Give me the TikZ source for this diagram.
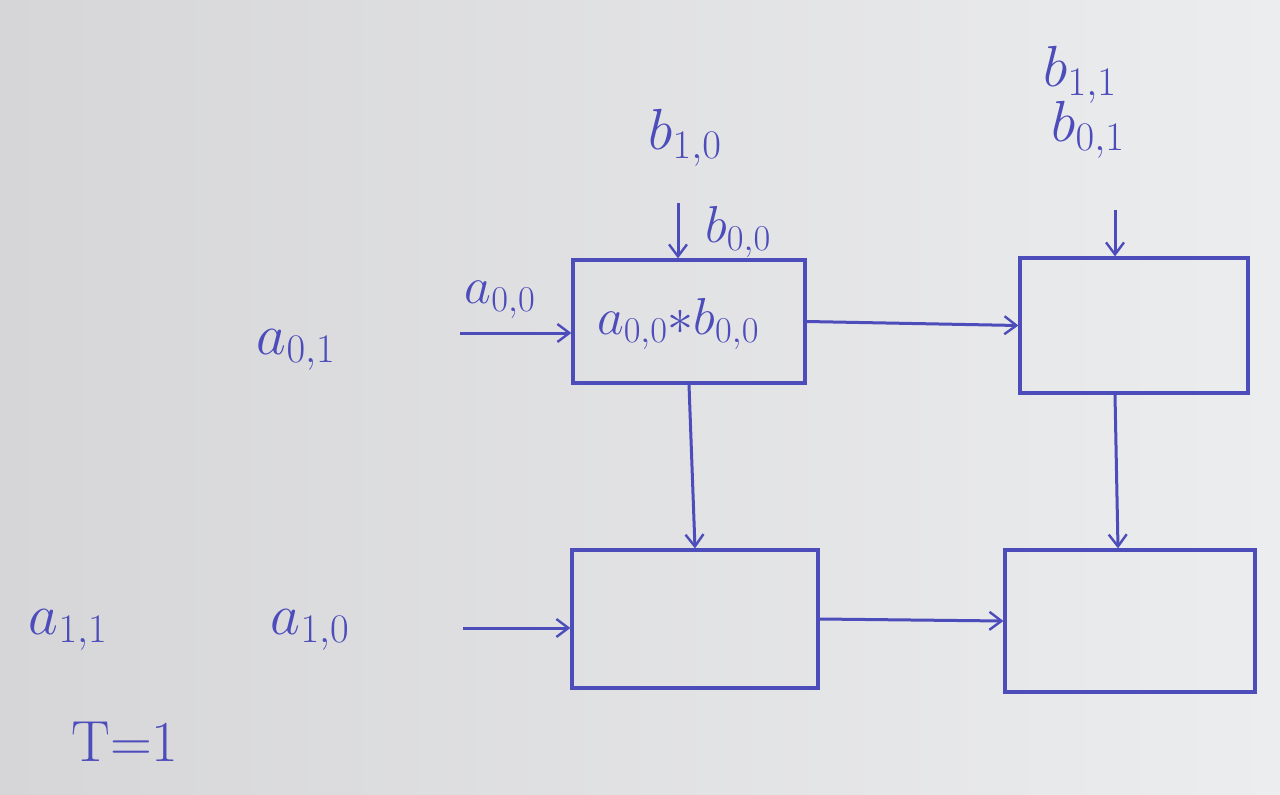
\RequirePackage{fix-cm}
\documentclass[tikz,border=0pt]{standalone}
\usetikzlibrary{arrows.meta,calc}
\definecolor{ink}{RGB}{76,76,186}
\definecolor{boardL}{RGB}{214,214,216}
\definecolor{boardR}{RGB}{236,237,239}
\begin{document}
\begin{tikzpicture}[x=1pt,y=-1pt,
  cell/.style={draw=ink,line width=3.2pt,minimum width=#1},
  lbl/.style={text=ink,font=\fontsize{58}{64}\selectfont,inner sep=0pt},
  slbl/.style={text=ink,font=\fontsize{52}{58}\selectfont,inner sep=0pt},
  flow/.style={draw=ink,line width=3pt,-{Straight Barb[length=12pt,width=18pt,line width=2.4pt]}}]
\shade[left color=boardL,right color=boardR] (0,0) rectangle (1280,795);
\useasboundingbox (0,0) rectangle (1280,795);
% cells
\node[cell=232pt,minimum height=123pt] (box1) at (689,321.5) {};
\node[cell=228pt,minimum height=135pt] (box2) at (1134,325.5) {};
\node[cell=246pt,minimum height=138pt] (box3) at (695,619) {};
\node[cell=250pt,minimum height=142pt] (box4) at (1130,621) {};
% text in box1
\node[slbl] (prod) at (678,324) {$a_{0,0}{*}b_{0,0}$};
% labels
\node[lbl] (b10) at (685,138) {$b_{1,0}$};
\node[lbl] (b11) at (1080,75) {$b_{1,1}$};
\node[lbl] (b01) at (1088,130) {$b_{0,1}$};
\node[slbl] (b00) at (738,232) {$b_{0,0}$};
\node[slbl] (a00) at (500,300) {$a_{0,0}$};
\node[lbl] (a01) at (296,350) {$a_{0,1}$};
\node[lbl] (a11) at (68,630) {$a_{1,1}$};
\node[lbl] (a10) at (310,630) {$a_{1,0}$};
\node[lbl] (T) at (125,742) {$\mathrm{T}{=}1$};
% free ends
\coordinate (in1) at (460,333);
\coordinate (in3) at (463,628);
\coordinate (tp1) at (678,203);
\coordinate (tp2) at (1115,210);
% connectors
\draw[flow] (in1) -- (in1 -| box1.west);
\draw[flow] (tp1) -- (tp1 |- box1.north);
\draw[flow] (tp2) -- (tp2 |- box2.north);
\draw[flow] (in3) -- (in3 -| box3.west);
\draw[flow] (box1.east) -- (box2.west);
\draw[flow] (box1.south) -- (box3.north);
\draw[flow] ([xshift=-19pt]box2.south) -- ([xshift=-12pt]box4.north);
\draw[flow] (box3.east) -- (box4.west);
\end{tikzpicture}
\end{document}
